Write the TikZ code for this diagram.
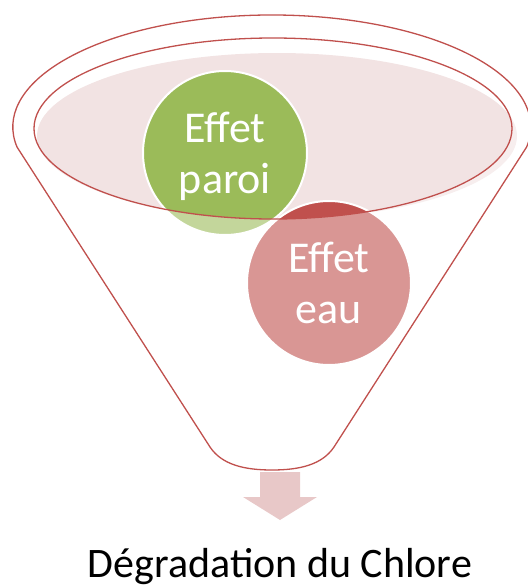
\documentclass[tikz,border=0pt]{standalone}
\usepackage{fontspec}
\setmainfont{Carlito}
\definecolor{fgreen}{HTML}{9BBB59}
\definecolor{fred}{HTML}{C0504D}
\definecolor{fpink}{HTML}{F2E3E3}
\definecolor{farrow}{HTML}{E8C8C8}
\begin{document}
\begin{tikzpicture}[x=1pt,y=-1pt,
  outline/.style={draw=fred, line width=1.3pt},
  bubble/.style={circle, minimum size=164pt, inner sep=0pt, draw=white, line width=2pt,
    text=white, align=center, font=\fontsize{44}{51}\selectfont, text depth=0pt}]
\useasboundingbox (0,0) rectangle (528,587);
% inner pink surface
\fill[fpink] (277,136) ellipse [x radius=240, y radius=83];
% bubbles
\node[bubble, fill=fgreen] (paroi) at (225,153) {Effet\\paroi};
\node[bubble, fill=fred] (eau) at (329,283) {Effet\\eau};
% translucent funnel body
\path[fill=white, fill opacity=0.4, even odd rule]
  (17,147) arc[start angle=169.7, end angle=370.3, x radius=259, y radius=112]
  -- (334,447) .. controls (322,465) and (299,470) .. (272,470)
  .. controls (245,470) and (222,465) .. (210,447) -- cycle
  (273,128.5) ellipse [x radius=239, y radius=90.5];
% outlines
\draw[outline, line join=round]
  (17,147) arc[start angle=169.7, end angle=370.3, x radius=259, y radius=112]
  -- (334,447) .. controls (322,465) and (299,470) .. (272,470)
  .. controls (245,470) and (222,465) .. (210,447) -- cycle;
\draw[outline] (273,128.5) ellipse [x radius=239, y radius=90.5];
% output arrow
\fill[farrow] (260,472) -- (300,472) -- (300,497) -- (317,497) -- (280,520)
  -- (243,497) -- (260,497) -- cycle;
\node[font=\fontsize{42}{50}\selectfont, anchor=base, inner sep=0pt] (title) at (280,577) {Dégradation du Chlore};
\end{tikzpicture}
\end{document}
